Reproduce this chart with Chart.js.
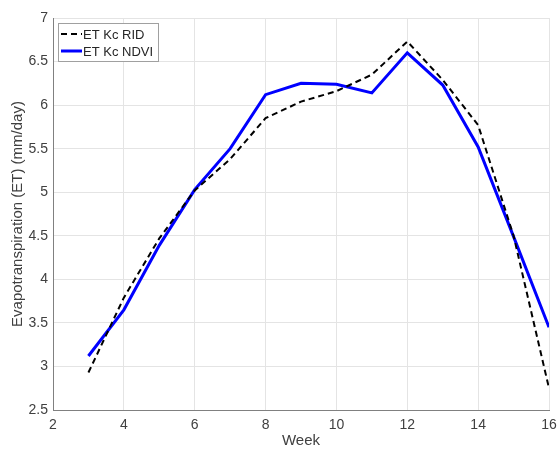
<!DOCTYPE html>
<html>
<head>
<meta charset="utf-8">
<script src="https://cdn.jsdelivr.net/npm/chart.js@4"></script>
<style>
  html, body { margin: 0; padding: 0; background: #fff; }
  #wrap { width: 558px; height: 454px; }
</style>
</head>
<body>
<div id="wrap"><canvas id="et"></canvas></div>
<script>
const weeks = [3, 4, 5, 6, 7, 8, 9, 10, 11, 12, 13, 14, 15, 16]
const etRID = [2.93, 3.79, 4.47, 5.02, 5.38, 5.85, 6.04, 6.16, 6.35, 6.73, 6.29, 5.77, 4.5, 2.75]
const etNDVI = [3.12, 3.65, 4.39, 5.03, 5.5, 6.12, 6.25, 6.24, 6.14, 6.6, 6.23, 5.52, 4.49, 3.45]
const seriesNames = ['ET Kc RID', 'ET Kc NDVI']

function toPoints(xs, ys) {
    return xs.map(function(x, i) {
        return { x: x, y: ys[i] }
    })
}

// legend drawn inside the plot, like the matlab one
const insideLegend = {
    id: 'insideLegend',
    afterDraw(chart) {
        const c = chart.ctx
        const area = chart.chartArea
        const x0 = area.left + 5, y0 = area.top + 5
        const w = 100, h = 38
        c.save()
        c.fillStyle = '#fff'
        c.fillRect(x0, y0, w, h)
        c.strokeStyle = '#a0a0a0'
        c.lineWidth = 1
        c.strokeRect(x0 + 0.5, y0 + 0.5, w, h)
        c.font = '13px "Liberation Sans", Arial, sans-serif'
        c.fillStyle = '#262626'
        c.textBaseline = 'middle'
        chart.data.datasets.forEach(function(ds, i) {
            const yy = y0 + 11 + i * 17
            c.beginPath()
            c.strokeStyle = ds.borderColor
            c.lineWidth = ds.borderWidth
            c.setLineDash(ds.borderDash || [])
            c.moveTo(x0 + 3, yy)
            c.lineTo(x0 + 24, yy)
            c.stroke()
            c.setLineDash([])
            c.fillText(ds.label, x0 + 25, yy + 1)
        })
        c.restore()
    }
}

const fontFam = '"Liberation Sans", Arial, sans-serif'

const canvas = document.getElementById('et')
let etChart = new Chart(canvas, {
    type: 'line',
    data: {
        datasets: [{
            label: seriesNames[0],
            data: toPoints(weeks, etRID),
            borderColor: '#000',
            borderWidth: 2,
            borderDash: [6, 4],
            pointRadius: 0,
            fill: false,
            tension: 0
        }, {
            label: seriesNames[1],
            data: toPoints(weeks, etNDVI),
            borderColor: '#0000ff',
            borderWidth: 3,
            pointRadius: 0,
            fill: false,
            tension: 0
        }]
    },
    options: {
        responsive: true,
        maintainAspectRatio: false,
        animation: false,
        layout: {
            padding: { top: 18, right: 9, left: 0, bottom: 0 }
        },
        plugins: {
            legend: { display: false },
            tooltip: { enabled: false }
        },
        scales: {
            x: {
                type: 'linear',
                min: 2,
                max: 16,
                afterFit(scale) {
                    scale.height = 44
                    scale.paddingRight = 0
                    scale.paddingLeft = 0
                },
                ticks: {
                    stepSize: 2,
                    color: '#404040',
                    padding: 7,
                    font: { family: fontFam, size: 14 }
                },
                grid: { color: '#e4e4e4', tickLength: 0 },
                border: { color: '#808080', width: 1 },
                title: {
                    display: true,
                    text: 'Week',
                    color: '#404040',
                    padding: { top: 0 },
                    font: { family: fontFam, size: 15 }
                }
            },
            y: {
                min: 2.5,
                max: 7,
                afterFit(scale) { scale.width = 53 },
                ticks: {
                    stepSize: 0.5,
                    color: '#404040',
                    padding: 5,
                    font: { family: fontFam, size: 14 },
                    callback: function(v) { return String(+v.toFixed(1)) }
                },
                grid: { color: '#e4e4e4', tickLength: 0 },
                border: { color: '#808080', width: 1 },
                title: {
                    display: true,
                    text: 'Evapotranspiration (ET) (mm/day)',
                    color: '#404040',
                    padding: { top: 9, bottom: 0 },
                    font: { family: fontFam, size: 15 }
                }
            }
        }
    },
    plugins: [insideLegend]
})
</script>
</body>
</html>
